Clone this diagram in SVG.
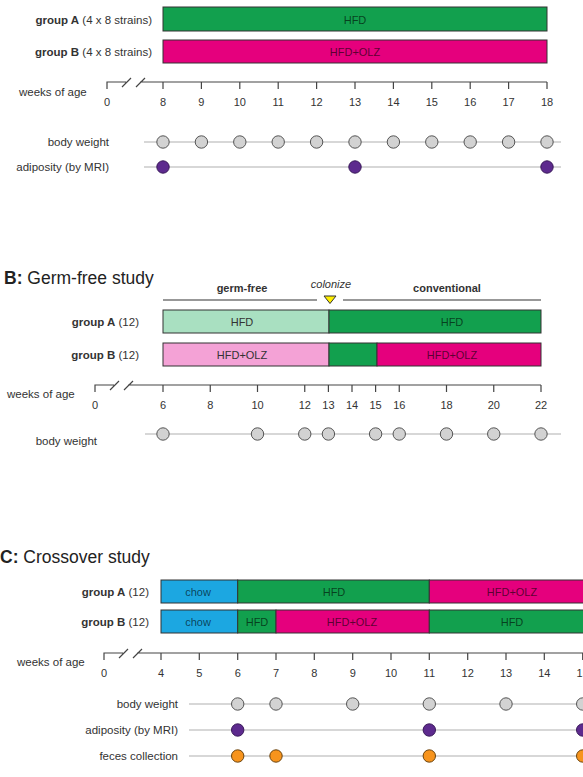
<svg xmlns="http://www.w3.org/2000/svg" width="583" height="777" viewBox="0 0 583 777">
<style>
text{font-family:"Liberation Sans",Arial,sans-serif;fill:#333;font-size:11.5px}
.b{font-weight:bold}
.title{font-size:17.5px;fill:#222}
.tk{font-size:11px;text-anchor:middle}
.lbl{text-anchor:end}
.bt{text-anchor:middle;font-size:11px;fill:#000;fill-opacity:0.62}
.bl{text-anchor:middle;font-size:11px;fill:#333}
.bar{stroke:#333;stroke-width:1}
.green{fill:#12a04e}
.mag{fill:#e5007d}
.lgreen{fill:#a9e0c1}
.lpink{fill:#f4a2d6}
.blue{fill:#1ca7e1}
.axis{stroke:#444;stroke-width:1.2;fill:none}
.row{stroke:#b0b0b0;stroke-width:1.2}
.gray{fill:#d2d2d2;stroke:#555;stroke-width:1}
.pur{fill:#5d2a8e;stroke:#3a1a5a;stroke-width:1}
.org{fill:#f7941d;stroke:#6a4410;stroke-width:1}
.hl{stroke:#333;stroke-width:1.2}
</style>

<!-- Section A -->
<g id="A-groupA">
<text class="lbl" x="152" y="24"><tspan class="b">group A</tspan> (4 x 8 strains)</text>
<rect class="bar green" x="163" y="7" width="384" height="24"/>
<text class="bt" x="355" y="24">HFD</text>
</g>
<g id="A-groupB">
<text class="lbl" x="152" y="56"><tspan class="b">group B</tspan> (4 x 8 strains)</text>
<rect class="bar mag" x="163" y="40" width="384" height="23"/>
<text class="bt" x="355" y="56">HFD+OLZ</text>
</g>
<g id="A-axis">
<text x="19" y="96">weeks of age</text>
<path class="axis" d="M107,89 V82 H126 M140,82 H547 M122,87 L131,78 M136,87 L145,78"/>
<path class="axis" d="M163,82v7 M201.4,82v7 M239.8,82v7 M278.2,82v7 M316.6,82v7 M355,82v7 M393.4,82v7 M431.8,82v7 M470.2,82v7 M508.6,82v7 M547,82v7"/>
<text class="tk" x="107" y="106">0</text>
<text class="tk" x="163" y="106">8</text>
<text class="tk" x="201.4" y="106">9</text>
<text class="tk" x="239.8" y="106">10</text>
<text class="tk" x="278.2" y="106">11</text>
<text class="tk" x="316.6" y="106">12</text>
<text class="tk" x="355" y="106">13</text>
<text class="tk" x="393.4" y="106">14</text>
<text class="tk" x="431.8" y="106">15</text>
<text class="tk" x="470.2" y="106">16</text>
<text class="tk" x="508.6" y="106">17</text>
<text class="tk" x="547" y="106">18</text>
</g>
<g id="connectors">
<line class="row" x1="144" y1="142" x2="561" y2="142"/>
<line class="row" x1="144" y1="167" x2="561" y2="167"/>
<line class="row" x1="145" y1="434" x2="561" y2="434"/>
<line class="row" x1="189" y1="704" x2="590" y2="704"/>
<line class="row" x1="189" y1="730" x2="590" y2="730"/>
<line class="row" x1="189" y1="756" x2="590" y2="756"/>
</g>
<g id="A-bodyweight">
<text class="lbl" x="109" y="146">body weight</text>
<circle class="gray" cx="163" cy="142" r="6.2"/>
<circle class="gray" cx="201.4" cy="142" r="6.2"/>
<circle class="gray" cx="239.8" cy="142" r="6.2"/>
<circle class="gray" cx="278.2" cy="142" r="6.2"/>
<circle class="gray" cx="316.6" cy="142" r="6.2"/>
<circle class="gray" cx="355" cy="142" r="6.2"/>
<circle class="gray" cx="393.4" cy="142" r="6.2"/>
<circle class="gray" cx="431.8" cy="142" r="6.2"/>
<circle class="gray" cx="470.2" cy="142" r="6.2"/>
<circle class="gray" cx="508.6" cy="142" r="6.2"/>
<circle class="gray" cx="547" cy="142" r="6.2"/>
</g>
<g id="A-adiposity">
<text class="lbl" x="109" y="171">adiposity (by MRI)</text>
<circle class="pur" cx="163" cy="167" r="6.2"/>
<circle class="pur" cx="355" cy="167" r="6.2"/>
<circle class="pur" cx="547" cy="167" r="6.2"/>
</g>

<!-- Section B -->
<g id="B-title">
<text class="title" x="4" y="284"><tspan class="b">B:</tspan> Germ-free study</text>
</g>
<g id="B-phases">
<text class="b bl" x="242" y="292">germ-free</text>
<text class="b bl" x="447" y="292">conventional</text>
<text class="bl" x="331" y="288" font-style="italic">colonize</text>
<path class="hl" d="M163,300 H317 M343,300 H541"/>
<polygon points="324,296 336,296 330,303.5" fill="#ffef00" stroke="#333" stroke-width="1"/>
</g>
<g id="B-groupA">
<text class="lbl" x="139" y="326"><tspan class="b">group A</tspan> (12)</text>
<rect class="bar lgreen" x="163" y="310" width="166" height="23"/>
<rect class="bar green" x="329" y="310" width="212" height="23"/>
<text class="bl" x="242" y="326">HFD</text>
<text class="bt" x="452" y="326">HFD</text>
</g>
<g id="B-groupB">
<text class="lbl" x="139" y="359"><tspan class="b">group B</tspan> (12)</text>
<rect class="bar lpink" x="163" y="343" width="166" height="23"/>
<rect class="bar green" x="329" y="343" width="48" height="23"/>
<rect class="bar mag" x="377" y="343" width="164" height="23"/>
<text class="bl" x="242" y="359">HFD+OLZ</text>
<text class="bt" x="452" y="359">HFD+OLZ</text>
</g>
<g id="B-axis">
<text x="7" y="398">weeks of age</text>
<path class="axis" d="M95,392 V385 H114 M128,385 H541 M110,390 L119,381 M124,390 L133,381"/>
<path class="axis" d="M163,385v7 M210.25,385v7 M257.5,385v7 M304.75,385v7 M328.4,385v7 M352,385v7 M375.6,385v7 M399.25,385v7 M446.5,385v7 M493.75,385v7 M541,385v7"/>
<text class="tk" x="95" y="409">0</text>
<text class="tk" x="163" y="409">6</text>
<text class="tk" x="210.25" y="409">8</text>
<text class="tk" x="257.5" y="409">10</text>
<text class="tk" x="304.75" y="409">12</text>
<text class="tk" x="328.4" y="409">13</text>
<text class="tk" x="352" y="409">14</text>
<text class="tk" x="375.6" y="409">15</text>
<text class="tk" x="399.25" y="409">16</text>
<text class="tk" x="446.5" y="409">18</text>
<text class="tk" x="493.75" y="409">20</text>
<text class="tk" x="541" y="409">22</text>
</g>
<g id="B-bodyweight">
<text class="lbl" x="97" y="445">body weight</text>
<circle class="gray" cx="163" cy="434" r="6.2"/>
<circle class="gray" cx="257.5" cy="434" r="6.2"/>
<circle class="gray" cx="304.75" cy="434" r="6.2"/>
<circle class="gray" cx="328.4" cy="434" r="6.2"/>
<circle class="gray" cx="375.6" cy="434" r="6.2"/>
<circle class="gray" cx="399.25" cy="434" r="6.2"/>
<circle class="gray" cx="446.5" cy="434" r="6.2"/>
<circle class="gray" cx="493.75" cy="434" r="6.2"/>
<circle class="gray" cx="541" cy="434" r="6.2"/>
</g>

<!-- Section C -->
<g id="C-title">
<text class="title" x="0" y="563"><tspan class="b">C:</tspan> Crossover study</text>
</g>
<g id="C-groupA">
<text class="lbl" x="149" y="596"><tspan class="b">group A</tspan> (12)</text>
<rect class="bar blue" x="161" y="580" width="76.7" height="23"/>
<rect class="bar green" x="237.7" y="580" width="191.6" height="23"/>
<rect class="bar mag" x="429.3" y="580" width="165" height="23"/>
<text class="bt" x="198" y="596">chow</text>
<text class="bt" x="334" y="596">HFD</text>
<text class="bt" x="512" y="596">HFD+OLZ</text>
</g>
<g id="C-groupB">
<text class="lbl" x="149" y="626"><tspan class="b">group B</tspan> (12)</text>
<rect class="bar blue" x="161" y="610" width="76.7" height="23"/>
<rect class="bar green" x="237.7" y="610" width="38.3" height="23"/>
<rect class="bar mag" x="276" y="610" width="153.3" height="23"/>
<rect class="bar green" x="429.3" y="610" width="165" height="23"/>
<text class="bt" x="198" y="626">chow</text>
<text class="bt" x="257" y="626">HFD</text>
<text class="bt" x="352" y="626">HFD+OLZ</text>
<text class="bt" x="512" y="626">HFD</text>
</g>
<g id="C-axis">
<text x="17" y="666">weeks of age</text>
<path class="axis" d="M104,660 V653 H123 M137,653 H590 M119,658 L128,649 M133,658 L142,649"/>
<path class="axis" d="M161,653v7 M199.3,653v7 M237.7,653v7 M276,653v7 M314.3,653v7 M352.7,653v7 M391,653v7 M429.3,653v7 M467.7,653v7 M506,653v7 M544.3,653v7 M582.7,653v7"/>
<text class="tk" x="104" y="677">0</text>
<text class="tk" x="161" y="677">4</text>
<text class="tk" x="199.3" y="677">5</text>
<text class="tk" x="237.7" y="677">6</text>
<text class="tk" x="276" y="677">7</text>
<text class="tk" x="314.3" y="677">8</text>
<text class="tk" x="352.7" y="677">9</text>
<text class="tk" x="391" y="677">10</text>
<text class="tk" x="429.3" y="677">11</text>
<text class="tk" x="467.7" y="677">12</text>
<text class="tk" x="506" y="677">13</text>
<text class="tk" x="544.3" y="677">14</text>
<text class="tk" x="582.7" y="677">15</text>
</g>
<g id="C-bodyweight">
<text class="lbl" x="178" y="708">body weight</text>
<circle class="gray" cx="237.7" cy="704" r="6.2"/>
<circle class="gray" cx="276" cy="704" r="6.2"/>
<circle class="gray" cx="352.7" cy="704" r="6.2"/>
<circle class="gray" cx="429.3" cy="704" r="6.2"/>
<circle class="gray" cx="506" cy="704" r="6.2"/>
<circle class="gray" cx="582.7" cy="704" r="6.2"/>
</g>
<g id="C-adiposity">
<text class="lbl" x="178" y="734">adiposity (by MRI)</text>
<circle class="pur" cx="237.7" cy="730" r="6.2"/>
<circle class="pur" cx="429.3" cy="730" r="6.2"/>
<circle class="pur" cx="582.7" cy="730" r="6.2"/>
</g>
<g id="C-feces">
<text class="lbl" x="178" y="760">feces collection</text>
<circle class="org" cx="237.7" cy="756" r="6.2"/>
<circle class="org" cx="276" cy="756" r="6.2"/>
<circle class="org" cx="429.3" cy="756" r="6.2"/>
<circle class="org" cx="582.7" cy="756" r="6.2"/>
</g>
</svg>
